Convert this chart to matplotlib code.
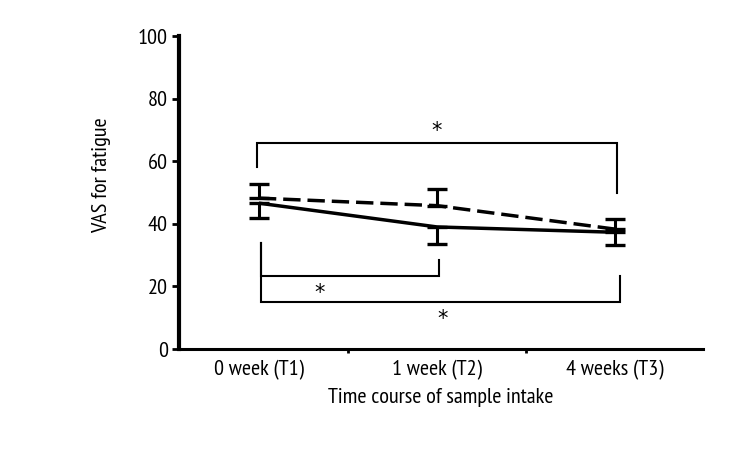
import matplotlib
matplotlib.use("Agg")
import matplotlib.pyplot as plt

plt.rcParams['font.family'] = ['PT Sans Narrow', 'DejaVu Sans']

# ---- data ----
categories = ['0 week (T1)', '1 week (T2)', '4 weeks (T3)']
solid_vals = [46.6, 39.0, 37.3]
solid_err_low = [4.6, 5.5, 4.1]
dashed_vals = [48.2, 45.8, 38.3]
dashed_err_up = [4.5, 5.2, 3.2]
yticks = [0, 20, 40, 60, 80, 100]

# significance brackets: (x_left, x_right, y_bar, y_left_end, y_right_end)
bracket_top = (0, 2, 65.8, 58.0, 50.0)
bracket_t1t2 = (0, 1, 23.3, 34.0, 28.4)
bracket_t1t3 = (0, 2, 15.0, 34.0, 23.3)
stars = [(1.0, 69.5), (0.34, 18.0), (1.03, 9.5)]

FS = 16

fig = plt.figure(figsize=(7.42, 4.5), dpi=100)
ax = fig.add_axes([0.2412, 0.2244, 0.7062, 0.6956])

x = list(range(len(categories)))
lw = 2.5
ax.plot(x, solid_vals, color='black', lw=lw, solid_capstyle='butt')
ax.plot(x, dashed_vals, color='black', lw=lw, ls=(0, (5, 2)))
ax.errorbar(x, solid_vals, yerr=[solid_err_low, [0]*3], fmt='none',
            ecolor='black', elinewidth=2.2, capsize=7, capthick=2.4)
ax.errorbar(x, dashed_vals, yerr=[[0]*3, dashed_err_up], fmt='none',
            ecolor='black', elinewidth=2.2, capsize=7, capthick=2.4)

def bracket(b, dx_l=0.0, dx_r=0.0):
    xl, xr, yb, yl, yr = b
    ax.plot([xl + dx_l, xl + dx_l, xr + dx_r, xr + dx_r], [yl, yb, yb, yr],
            color='black', lw=1.5, solid_joinstyle='miter')

bracket(bracket_top, -0.01, 0.011)
bracket(bracket_t1t2, 0.011, 0.011)
bracket(bracket_t1t3, 0.011, 0.028)
for sx, sy in stars:
    ax.text(sx, sy, '*', ha='center', va='center', fontsize=15,
            family='DejaVu Sans')

ax.set_xlim(-0.449, 2.494)
ax.set_ylim(0, 100)
ax.set_yticks(yticks)
ax.set_xticks(x)
ax.set_xticklabels(categories)
ax.set_xticks([0.5, 1.5], minor=True)
ax.tick_params(axis='x', which='major', length=0, pad=8, labelsize=FS)
ax.tick_params(axis='x', which='minor', length=3, width=2, direction='out')
ax.tick_params(axis='y', length=5, width=2, labelsize=FS, pad=3)
for s in ['top', 'right']:
    ax.spines[s].set_visible(False)
ax.spines['left'].set_linewidth(3)
ax.spines['bottom'].set_linewidth(2.2)

ax.set_ylabel('VAS for fatigue', fontsize=FS)
ax.yaxis.set_label_coords(-0.13, 0.556)
ax.set_xlabel('Time course of sample intake', fontsize=FS, labelpad=6)

fig.savefig('out.png', dpi=100)
